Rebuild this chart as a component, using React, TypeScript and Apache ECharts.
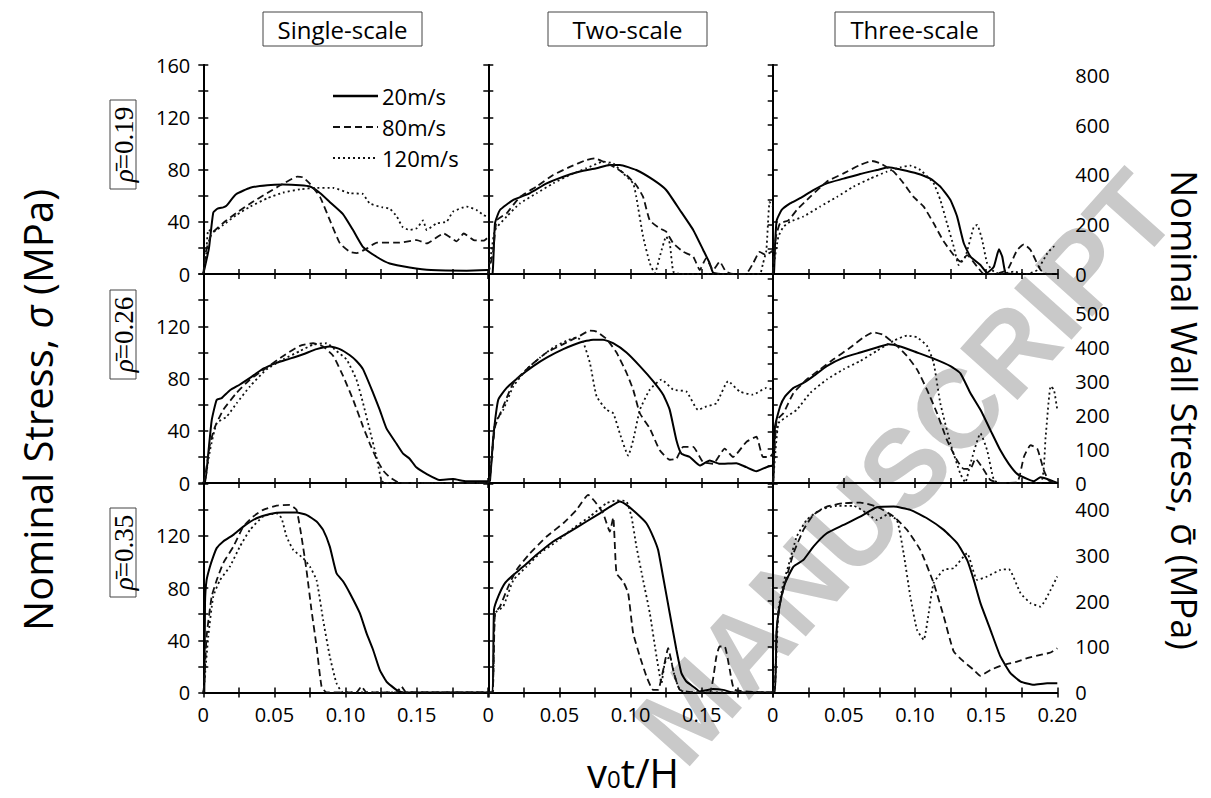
import React, { useEffect, useRef } from 'react';
import * as echarts from 'echarts';

const FONT = '"Open Sans", "DejaVu Sans", sans-serif';
const SERIF = '"Liberation Serif", "DejaVu Serif", serif';

const columnTitles = ['Single-scale', 'Two-scale', 'Three-scale'];
const densities = [0.19, 0.26, 0.35];
const speedNames = ['20m/s', '80m/s', '120m/s'];
const wallLabelMax = [800, 500, 400];

// ---- Single-scale, rho = 0.19
const S00_20 = [[0,0],[0.004,20],[0.007,47],[0.01,50],[0.014,51],[0.016,52],[0.023,61],[0.033,66],[0.045,68],[0.056,68.5],[0.068,68],[0.075,67],[0.082,62],[0.089,55],[0.098,46],[0.105,34],[0.112,21],[0.122,13],[0.131,8],[0.145,5],[0.16,3],[0.185,2.5],[0.2,3]];
const S00_80 = [[0,0],[0.002,18],[0.006,31],[0.014,39],[0.023,46.5],[0.033,54],[0.045,62],[0.056,69],[0.066,74.5],[0.07,74],[0.075,69],[0.082,59],[0.089,41],[0.096,23.5],[0.103,17],[0.108,16],[0.115,19.6],[0.122,24],[0.138,24],[0.15,26],[0.157,23.5],[0.169,31],[0.178,25],[0.183,31],[0.19,26],[0.197,25.5],[0.2,28]];
const S00_120 = [[0,0],[0.002,15],[0.0035,33.7],[0.007,32.4],[0.014,37.5],[0.023,45],[0.033,51.6],[0.045,58],[0.056,62.3],[0.068,64.8],[0.08,66],[0.091,66],[0.103,61.8],[0.112,61.3],[0.117,54],[0.126,51],[0.131,50],[0.136,44],[0.14,36],[0.145,33.7],[0.15,35],[0.1545,41],[0.157,33.7],[0.164,38.8],[0.171,40],[0.1755,47.7],[0.185,51.6],[0.192,49],[0.197,45],[0.2,44]];
// ---- Two-scale, rho = 0.19
const T01_20 = [[0,0],[0.003,0.5],[0.0047,38.8],[0.0082,49],[0.0176,56.7],[0.029,61.8],[0.041,69.4],[0.0527,74.5],[0.0644,78.4],[0.076,80.9],[0.0855,83.5],[0.0925,83.5],[0.104,79.6],[0.116,72],[0.125,64.3],[0.1346,49],[0.144,33.7],[0.151,18.4],[0.1556,8.2],[0.158,1],[0.165,0],[0.2,0]];
const T01_80 = [[0,0],[0.0035,18],[0.0059,41],[0.0129,46.5],[0.0222,59],[0.0339,67],[0.0456,75.8],[0.0573,82],[0.069,87.3],[0.0749,88.6],[0.0807,86],[0.09,81],[0.097,75.8],[0.104,68],[0.1088,59],[0.1135,41],[0.1205,35],[0.125,32.4],[0.13,23.5],[0.137,17],[0.144,13.3],[0.1486,3],[0.153,12],[0.158,3],[0.1626,9.4],[0.167,1.8],[0.172,0],[0.181,0],[0.186,8],[0.1907,17],[0.195,14.5],[0.2,18]];
const T01_120 = [[0,0],[0.0023,18],[0.0047,33.7],[0.0129,44],[0.0222,54],[0.0339,61.8],[0.0456,69.4],[0.0573,75.8],[0.069,81],[0.0807,86],[0.0877,84.7],[0.0948,77],[0.1018,69.4],[0.104,59],[0.1088,28.6],[0.1135,8.2],[0.117,0.5],[0.1205,13.3],[0.125,28.6],[0.1275,23.5],[0.13,1.8],[0.1346,0],[0.1907,0],[0.193,8],[0.1954,18],[0.1977,55],[0.2,51.6]];
// ---- Three-scale, rho = 0.19
const H02_20 = [[0,0],[0.0009,0.5],[0.0016,21],[0.0028,41],[0.0063,49],[0.0122,54],[0.0192,58],[0.0286,64.3],[0.038,69.4],[0.0498,73],[0.0615,76.6],[0.0732,79.6],[0.0815,81.7],[0.0897,80],[0.1014,77],[0.1108,73],[0.1178,66.9],[0.1249,56.7],[0.1296,43.9],[0.1343,23.5],[0.139,13.3],[0.146,6.9],[0.1507,1],[0.1554,5.6],[0.159,18.9],[0.1613,13.3],[0.1636,1],[0.1695,0],[0.2,0]];
const H02_80 = [[0,0],[0.0005,8],[0.0023,28.6],[0.0052,38.8],[0.011,41],[0.0169,49],[0.0263,59],[0.038,70.7],[0.0498,77],[0.0615,83.5],[0.0697,86.5],[0.0756,84.7],[0.085,78.4],[0.092,69.4],[0.099,59],[0.1061,51.6],[0.1131,38.8],[0.1202,24.8],[0.1272,14.5],[0.1319,9.4],[0.1366,14.5],[0.1437,5.6],[0.1484,0],[0.1554,0],[0.1648,3],[0.1718,18.4],[0.1765,22.7],[0.1812,18.4],[0.1883,3],[0.193,0],[0.2,0]];
const H02_120 = [[0,0],[0.0009,8],[0.004,28.6],[0.0075,36],[0.0122,40],[0.0216,44],[0.0333,51.6],[0.0451,59],[0.0568,66.9],[0.0685,73],[0.0803,78.4],[0.0897,81.7],[0.0967,83],[0.1038,79.6],[0.1131,69.4],[0.1178,56.7],[0.1225,38.8],[0.1272,21],[0.1307,6.9],[0.1354,13.3],[0.1413,36],[0.1437,37.5],[0.1472,26],[0.1507,8.2],[0.1554,1.8],[0.1601,0],[0.1695,1.8],[0.1789,0],[0.1859,3],[0.193,15.8],[0.1977,21],[0.2,19.6]];
// ---- Single-scale, rho = 0.26
const S10_20 = [[0,0],[0.0012,0],[0.0035,22.5],[0.0059,48],[0.0094,63.7],[0.0129,65],[0.0187,71],[0.0257,75.4],[0.0328,80.5],[0.0421,87.5],[0.0515,92],[0.0608,95.2],[0.0702,98.6],[0.0796,102.5],[0.0889,104.5],[0.0959,102.5],[0.103,97.8],[0.1076,93.4],[0.1123,87],[0.1193,69],[0.124,56],[0.1287,41.8],[0.1357,30.2],[0.1404,22.5],[0.145,18.6],[0.1497,12],[0.1568,7],[0.1661,2.3],[0.1755,3],[0.1849,1.3],[0.2,1.3]];
const S10_80 = [[0,0],[0.0012,4.4],[0.0047,30],[0.0082,43],[0.014,56],[0.0234,69],[0.0328,79.2],[0.0445,88.3],[0.0562,97.3],[0.0679,105],[0.0772,107],[0.0842,104.5],[0.0913,97.3],[0.0983,81.8],[0.1053,63.7],[0.1123,43],[0.117,30.2],[0.1217,18.6],[0.1264,9.5],[0.131,4.4],[0.1369,0.5],[0.1404,0],[0.2,0]];
const S10_120 = [[0,0],[0.0012,1.8],[0.0047,25],[0.0094,45.7],[0.0164,50.8],[0.0234,61],[0.0328,74],[0.0445,87],[0.0562,94.7],[0.0679,101],[0.0772,106],[0.0866,107],[0.0936,101],[0.1006,94.7],[0.1076,79.2],[0.1123,61],[0.117,40.5],[0.1217,19.9],[0.1252,1.8],[0.1275,0],[0.2,0]];
// ---- Two-scale, rho = 0.26
const T11_20 = [[0,0],[0.0012,1.8],[0.0035,35],[0.007,63.7],[0.0129,72.8],[0.0222,81.8],[0.0316,89.5],[0.041,96],[0.0527,102.5],[0.0644,107.6],[0.0737,109.7],[0.0807,109.7],[0.0877,107],[0.0971,99.9],[0.1065,89.5],[0.1158,78],[0.1229,67.6],[0.1275,56],[0.1322,32.8],[0.1357,22.5],[0.1416,19.9],[0.1486,13.4],[0.1556,17.3],[0.1626,14.7],[0.1743,15.2],[0.1813,12.1],[0.1884,9],[0.1954,12.1],[0.2,13.4]];
const T11_80 = [[0,0],[0.0012,4.4],[0.0047,43],[0.0105,58.6],[0.0176,76.6],[0.0293,89.5],[0.041,99.9],[0.0527,106.3],[0.0644,112.8],[0.0714,116.6],[0.0761,115.9],[0.0831,110.2],[0.0901,99.9],[0.0971,84.4],[0.1018,71.5],[0.1065,53.4],[0.1135,41.8],[0.1205,25],[0.1275,17.8],[0.1322,18.6],[0.1369,27.6],[0.1439,27.6],[0.1509,16],[0.158,14.7],[0.1661,26.3],[0.172,19.9],[0.1814,31.5],[0.1884,35.4],[0.193,19.9],[0.1977,19.9],[0.2,22.5]];
const T11_120 = [[0,0],[0.0012,4.4],[0.0047,45.7],[0.0105,56],[0.0176,74],[0.0269,87],[0.0363,96],[0.0456,103.7],[0.055,108.9],[0.062,111.5],[0.0667,107.6],[0.0714,92],[0.0761,66.3],[0.0831,56],[0.0878,53.4],[0.0924,38],[0.0983,21],[0.1018,32.8],[0.1065,56],[0.1135,71.5],[0.1217,79.2],[0.1299,71.5],[0.1392,70],[0.1474,56],[0.1533,58.6],[0.1603,61],[0.1685,78],[0.1767,70],[0.186,67.6],[0.1954,72.8],[0.2,71.5]];
// ---- Three-scale, rho = 0.26
const H12_20 = [[0,0],[0.0005,1.8],[0.0016,43],[0.0052,58.6],[0.0087,66.3],[0.0146,72.8],[0.0216,76.6],[0.0286,81.8],[0.038,89.5],[0.0498,96],[0.0615,99.9],[0.0732,103.7],[0.0814,106.3],[0.0897,104.5],[0.1014,99.9],[0.1131,95.2],[0.1249,89.5],[0.1319,83.9],[0.1389,68.9],[0.146,56],[0.153,40.5],[0.16,25],[0.1659,14.7],[0.1718,7],[0.1788,3.1],[0.1835,1.3],[0.1882,4.4],[0.1929,3.1],[0.2,0]];
const H12_80 = [[0,0],[0.0005,9.5],[0.0028,48],[0.0075,53.4],[0.0146,68.9],[0.0239,79.2],[0.0333,87],[0.0427,94.7],[0.0545,103.7],[0.0638,111.5],[0.0709,115.4],[0.0779,113.3],[0.0873,105],[0.0943,97.3],[0.1014,87],[0.1084,71.5],[0.1155,53.4],[0.1225,32.8],[0.1296,17.3],[0.1342,10.8],[0.1389,10.8],[0.1425,18.6],[0.1472,12.1],[0.153,2.3],[0.16,0],[0.1718,0.5],[0.1765,19.9],[0.1812,28.9],[0.1859,26.3],[0.1906,9.5],[0.1941,1.8],[0.2,0]];
const H12_120 = [[0,0],[0.0005,4.4],[0.004,45.7],[0.0099,50.8],[0.0169,56],[0.0263,68.9],[0.038,79.2],[0.0498,87],[0.0615,93.4],[0.0732,101.2],[0.085,108.9],[0.0944,112.8],[0.1014,111.5],[0.1084,105],[0.1131,92],[0.1178,61],[0.1249,30.2],[0.1319,7],[0.1354,0.5],[0.1389,14.7],[0.146,38],[0.1507,25],[0.1554,2.3],[0.16,0],[0.1882,0],[0.1918,35.4],[0.1953,74],[0.1976,71.5],[0.2,56]];
// ---- Single-scale, rho = 0.35
const S20_20 = [[0,0],[0.0007,0],[0.0012,68.4],[0.0023,86],[0.0047,96.4],[0.007,104],[0.0094,110.5],[0.014,115.6],[0.0211,120.7],[0.0281,127],[0.0374,133.4],[0.0468,136.7],[0.0562,137.8],[0.0655,137.8],[0.0725,136],[0.0796,130.9],[0.0842,124.5],[0.0889,111.7],[0.0936,91.3],[0.0983,85],[0.103,76],[0.11,60.7],[0.1147,45.4],[0.1193,32.7],[0.124,17.3],[0.1287,8.4],[0.1357,2],[0.1404,0],[0.2,0]];
const S20_80 = [[0,0],[0.0007,7],[0.0023,42.9],[0.0059,73.5],[0.0094,86],[0.014,99],[0.0211,111.7],[0.0281,127],[0.0351,134.7],[0.0421,139.8],[0.0515,143],[0.0608,143.6],[0.0655,139.8],[0.069,119.4],[0.0725,93.9],[0.076,63.3],[0.0796,35.2],[0.0831,4.6],[0.0866,0],[0.1076,0],[0.1111,4.6],[0.1147,0],[0.1357,0],[0.1392,4.6],[0.1427,0],[0.2,0]];
const S20_120 = [[0,0],[0.0007,7],[0.0035,42.9],[0.007,73.5],[0.0117,86],[0.0187,96.4],[0.0257,111.7],[0.0328,124.5],[0.0421,134.7],[0.0515,137.2],[0.055,133.4],[0.0585,119.4],[0.0632,109.2],[0.0702,102.8],[0.0749,96.4],[0.0796,86],[0.0842,55.6],[0.0889,27.6],[0.0936,7.1],[0.0983,0],[0.2,0]];
// ---- Two-scale, rho = 0.35
const T21_20 = [[0,0],[0.003,0],[0.004,63.3],[0.007,73.5],[0.0117,83.7],[0.0175,90],[0.0246,96.4],[0.0339,105.4],[0.0456,115.6],[0.0573,123.2],[0.069,130.9],[0.0784,137.2],[0.0877,143.6],[0.0924,146.2],[0.0971,143.6],[0.1041,137.2],[0.1111,129.6],[0.1158,119.4],[0.1193,109.2],[0.1228,88.8],[0.1275,60.7],[0.1322,32.7],[0.1357,14.8],[0.1392,8.4],[0.1439,4.6],[0.1486,0.8],[0.158,2.6],[0.165,2],[0.172,0],[0.2,0]];
const T21_80 = [[0,0],[0.003,0],[0.0047,60.7],[0.0082,65.8],[0.014,81.1],[0.0199,93.9],[0.0293,106.6],[0.041,119.4],[0.0527,129.6],[0.062,139.8],[0.0702,151.3],[0.0749,146.2],[0.0807,137.2],[0.0854,123.2],[0.0878,134],[0.0901,91.3],[0.0948,85],[0.0983,76],[0.1018,45.4],[0.1065,27.6],[0.1112,12.2],[0.1158,2],[0.1193,2],[0.1229,17.3],[0.1264,33.9],[0.1299,17.3],[0.1346,2],[0.1463,0],[0.1556,0],[0.1603,27.6],[0.1626,35.2],[0.1661,35.2],[0.1697,17.3],[0.1732,2],[0.2,0]];
const T21_120 = [[0,0],[0.003,0],[0.0047,60.7],[0.0105,65.8],[0.0176,86],[0.0269,96.4],[0.0363,106.6],[0.048,115.6],[0.0597,125.8],[0.0714,134.7],[0.0831,144.9],[0.0901,147],[0.0971,146.2],[0.1006,134.7],[0.1041,111.7],[0.1088,86],[0.1135,60.7],[0.1182,27.6],[0.1217,7.1],[0.124,22.4],[0.1275,27.6],[0.131,12.2],[0.1346,2],[0.14,0],[0.2,0]];
// ---- Three-scale, rho = 0.35
const H22_20 = [[0,0],[0.0016,0],[0.0028,48],[0.0052,68.4],[0.0087,83.7],[0.0146,96.4],[0.0216,101.5],[0.0286,111.7],[0.038,121.9],[0.0498,128.3],[0.0615,134.7],[0.0732,141.8],[0.085,142.3],[0.0967,139.8],[0.1084,133.4],[0.1202,124.5],[0.1296,114.3],[0.1366,101.5],[0.1413,86.2],[0.146,68.4],[0.153,48],[0.16,27.6],[0.1671,14.8],[0.1742,8.4],[0.1835,5.9],[0.1929,7.1],[0.2,7.1]];
const H22_80 = [[0,0],[0.0016,4.6],[0.0028,48],[0.0052,68.4],[0.0099,88.8],[0.0146,106.6],[0.0216,124.5],[0.0286,136],[0.038,142.3],[0.0498,144.9],[0.0615,145.4],[0.0732,142.3],[0.085,134.7],[0.0944,124.5],[0.1037,109.2],[0.1131,83.7],[0.1202,58.2],[0.1272,31.4],[0.1342,23.7],[0.1413,17.3],[0.146,12.8],[0.153,17.3],[0.1624,21.2],[0.1718,23.7],[0.1788,26.3],[0.1882,28.8],[0.1953,30.6],[0.2,33.9]];
const H22_120 = [[0,0],[0.0016,4.6],[0.004,63.3],[0.0075,83.7],[0.0122,101.5],[0.0169,119.4],[0.0239,132.1],[0.0333,139.8],[0.0451,142.9],[0.0568,142.9],[0.0662,137.2],[0.0732,132.1],[0.0803,136],[0.0873,132.1],[0.092,106.6],[0.0967,73.5],[0.1014,48],[0.1061,40.3],[0.1096,60.7],[0.1131,83.7],[0.1202,93.9],[0.1272,95.2],[0.1366,106.6],[0.1436,86.2],[0.1507,88.8],[0.1601,93.9],[0.1659,94.4],[0.1742,76],[0.1812,68.4],[0.1882,65.8],[0.1953,78.6],[0.2,88.8]];

const panelData = [
  [S00_20, S00_80, S00_120], [T01_20, T01_80, T01_120], [H02_20, H02_80, H02_120],
  [S10_20, S10_80, S10_120], [T11_20, T11_80, T11_120], [H12_20, H12_80, H12_120],
  [S20_20, S20_80, S20_120], [T21_20, T21_80, T21_120], [H22_20, H22_80, H22_120],
];

const COL_LEFT = [203.3, 488.3, 772.7];
const ROW_TOP = [65, 274, 483.5];
const PANEL_W = 284.6;
const PANEL_H = 209;

const LINE_STYLES: any[] = [
  { color: '#000', width: 2, type: 'solid' },
  { color: '#111', width: 1.8, type: [7, 4] },
  { color: '#111', width: 1.8, type: [2, 3] },
];

const isMult = (v: number, step: number) => Math.abs(v / step - Math.round(v / step)) < 1e-6;

function buildOption() {
  const grid: any[] = [];
  const xAxis: any[] = [];
  const yAxis: any[] = [];
  const series: any[] = [];
  const axisLine = { show: true, lineStyle: { color: '#000', width: 2 } };
  const axisTick = { show: true, inside: true, length: 5, lineStyle: { color: '#000', width: 1.5 } };
  const labelBase = { color: '#000', fontSize: 20, fontFamily: FONT };
  for (let r = 0; r < 3; r++) {
    for (let c = 0; c < 3; c++) {
      const g = r * 3 + c;
      grid.push({ left: COL_LEFT[c], top: ROW_TOP[r], width: PANEL_W, height: PANEL_H });
      const xFmt = (v: number) => {
        if (!isMult(v, 0.05)) return '';
        if (Math.abs(v) < 1e-9) return '0';
        if (c < 2 && v > 0.19) return '';
        return v.toFixed(2);
      };
      xAxis.push({
        type: 'value', gridIndex: g, position: 'bottom', min: 0, max: 0.2, interval: 0.025,
        axisLine, axisTick, splitLine: { show: false },
        axisLabel: { ...labelBase, show: r === 2, margin: 12, formatter: xFmt, showMinLabel: true, showMaxLabel: true },
      });
      xAxis.push({
        type: 'value', gridIndex: g, position: 'top', min: 0, max: 0.2, interval: 0.025,
        axisLine, axisTick, splitLine: { show: false }, axisLabel: { show: false },
      });
      yAxis.push({
        type: 'value', gridIndex: g, position: 'left', min: 0, max: 160, interval: 20,
        axisLine, axisTick, splitLine: { show: false },
        axisLabel: {
          ...labelBase, show: c === 0, margin: 13, showMinLabel: true, showMaxLabel: true,
          formatter: (v: number) => (isMult(v, 40) && !(r > 0 && v >= 160) ? String(v) : ''),
        },
      });
      if (c < 2) {
        yAxis.push({
          type: 'value', gridIndex: g, position: 'right', min: 0, max: 160, interval: 20,
          axisLine, axisTick, splitLine: { show: false }, axisLabel: { show: false },
        });
      } else {
        const wallMax = 160 / densities[r];
        const step = r === 0 ? 100 : 50;
        const labStep = r === 0 ? 200 : 100;
        yAxis.push({
          type: 'value', gridIndex: g, position: 'right', min: 0, max: wallMax, interval: step,
          axisLine, axisTick, splitLine: { show: false },
          axisLabel: {
            ...labelBase, show: true, margin: 18, showMinLabel: true, showMaxLabel: true,
            formatter: (v: number) => (isMult(v, labStep) && v <= wallLabelMax[r] + 1e-6 ? String(Math.round(v)) : ''),
          },
        });
      }
      panelData[g].forEach((d, k) => {
        series.push({
          type: 'line', name: speedNames[k], xAxisIndex: 2 * g, yAxisIndex: 2 * g,
          data: d, symbol: 'none', smooth: 0.15, lineStyle: LINE_STYLES[k], z: 3,
        });
      });
    }
  }

  const graphic: any[] = [];
  // watermark (kept fully inside the page)
  graphic.push({
    type: 'text', x: 905, y: 468, rotation: 0.84, z: -10, silent: true,
    style: { text: 'MANUSCRIPT', fontSize: 112, fontWeight: 'bold', fontFamily: '"Liberation Sans", Arial, sans-serif', fill: '#c9c9c9', textAlign: 'center', textVerticalAlign: 'middle' },
  });
  // column titles
  const titleBoxLeft = [263, 548, 835];
  columnTitles.forEach((t, i) => {
    graphic.push({ type: 'rect', shape: { x: titleBoxLeft[i], y: 12, width: 159, height: 34 }, style: { fill: '#fff', stroke: '#444', lineWidth: 1 } });
    graphic.push({ type: 'text', x: titleBoxLeft[i] + 79.5, y: 29, style: { text: t, fontSize: 24, fontFamily: FONT, fill: '#000', textAlign: 'center', textVerticalAlign: 'middle' } });
  });
  // row labels
  const rowBoxTop = [100, 290, 508];
  densities.forEach((d, i) => {
    graphic.push({ type: 'rect', shape: { x: 110, y: rowBoxTop[i], width: 26, height: 89 }, style: { fill: '#fff', stroke: '#444', lineWidth: 1 } });
    graphic.push({
      type: 'text', x: 124, y: rowBoxTop[i] + 44.5, rotation: Math.PI / 2,
      style: {
        text: `{r|ρ̄}=${d.toFixed(2)}`, fontSize: 27, fontFamily: SERIF, fill: '#000', textAlign: 'center', textVerticalAlign: 'middle',
        rich: { r: { fontStyle: 'italic', fontFamily: SERIF, fontSize: 27, fill: '#000' } },
      },
    });
  });
  // legend (sample lines + names)
  const legendY = [96, 127, 158];
  speedNames.forEach((n, k) => {
    graphic.push({
      type: 'line', shape: { x1: 333, y1: legendY[k], x2: 378, y2: legendY[k] },
      style: { stroke: LINE_STYLES[k].color, lineWidth: LINE_STYLES[k].width + 0.4, lineDash: k === 0 ? null : LINE_STYLES[k].type },
    });
    graphic.push({ type: 'text', x: 382, y: legendY[k], style: { text: n, fontSize: 22, fontFamily: FONT, fill: '#000', textAlign: 'left', textVerticalAlign: 'middle' } });
  });
  // axis titles
  graphic.push({
    type: 'text', x: 37, y: 410, rotation: Math.PI / 2,
    style: { text: 'Nominal Stress, {i|σ} (MPa)', fontSize: 40, fontFamily: FONT, fill: '#000', textAlign: 'center', textVerticalAlign: 'middle',
      rich: { i: { fontStyle: 'italic', fontSize: 40, fontFamily: FONT, fill: '#000' } } },
  });
  graphic.push({
    type: 'text', x: 1184, y: 410, rotation: -Math.PI / 2,
    style: { text: 'Nominal Wall Stress, {i|σ̄} (MPa)', fontSize: 36, lineHeight: 40, fontFamily: FONT, fill: '#000', textAlign: 'center', textVerticalAlign: 'middle',
      rich: { i: { fontSize: 36, lineHeight: 40, fontFamily: FONT, fill: '#000' } } },
  });
  graphic.push({
    type: 'text', x: 633, y: 772,
    style: { text: 'v{s|0}t/H', fontSize: 40, fontFamily: FONT, fill: '#000', textAlign: 'center', textVerticalAlign: 'middle',
      rich: { s: { fontSize: 24, fontFamily: FONT, fill: '#000', verticalAlign: 'bottom', padding: [0, 0, 2, 0] } } },
  });

  return { animation: false, backgroundColor: '#fff', grid, xAxis, yAxis, series, graphic };
}

export default function App() {
  const ref = useRef<HTMLDivElement>(null);
  useEffect(() => {
    if (!ref.current) return;
    const chart = echarts.init(ref.current, undefined, { renderer: 'svg' });
    chart.setOption(buildOption() as any);
    return () => chart.dispose();
  }, []);
  return <div ref={ref} style={{ position: 'fixed', left: 0, top: 0, width: 1211, height: 798, background: '#fff' }} />;
}
